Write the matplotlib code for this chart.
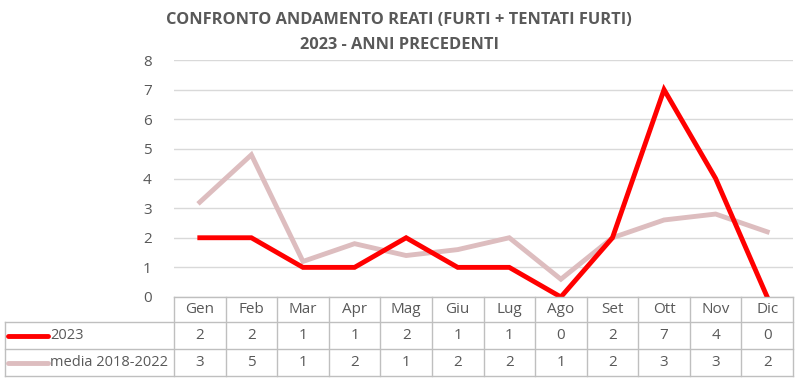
import numpy as np
import matplotlib.pyplot as plt
from matplotlib.transforms import blended_transform_factory

# dati
mesi = ['Gen', 'Feb', 'Mar', 'Apr', 'Mag', 'Giu', 'Lug', 'Ago', 'Set', 'Ott', 'Nov', 'Dic']
reati_2023 = [2, 2, 1, 1, 2, 1, 1, 0, 2, 7, 4, 0]
media_18_22 = [3.2, 4.8, 1.2, 1.8, 1.4, 1.6, 2.0, 0.6, 2.0, 2.6, 2.8, 2.2]
serie_nomi = ['2023', 'media 2018-2022']
y_ticks = [0, 1, 2, 3, 4, 5, 6, 7, 8]

rosso = '#FF0000'
rosa = '#DDBDBF'
grigio = '#595959'
bordo = '#BFBFBF'
plt.rcParams['font.family'] = ['Open Sans', 'DejaVu Sans']

W, H = 800, 383
fig = plt.figure(figsize=(8, 3.83), dpi=100)
x0, x1 = 174, 793
ytop, ybot = 60, 297
ax = fig.add_axes([x0 / W, 1 - ybot / H, (x1 - x0) / W, (ybot - ytop) / H])

x = np.arange(len(mesi))
ax.plot(x, media_18_22, color=rosa, lw=3.5, solid_joinstyle='miter', zorder=3)
ax.plot(x, reati_2023, color=rosso, lw=3.5, solid_joinstyle='miter', zorder=4)

ax.set_xlim(-0.5, len(mesi) - 0.5)
ax.set_ylim(0, 8)
ax.set_yticks(y_ticks)
ax.set_xticks([])
ax.tick_params(axis='y', length=0, pad=16, labelsize=11, labelcolor=grigio)
ax.grid(axis='y', color='#D9D9D9', lw=1)
for s in ax.spines.values():
    s.set_visible(False)
ax.set_axisbelow(True)

# titolo
fig.text(399 / W, 1 - 20 / H, 'CONFRONTO ANDAMENTO REATI (FURTI + TENTATI FURTI)',
         ha='center', va='center', fontsize=11.8, fontweight='bold', color=grigio)
fig.text(399 / W, 1 - 45 / H, '2023 - ANNI PRECEDENTI',
         ha='center', va='center', fontsize=11.8, fontweight='bold', color=grigio)

# tabella dati
tr = blended_transform_factory(ax.transData, fig.transFigure)
fy = lambda p: 1 - p / H
fx = lambda p: p / W
righe = [297, 322, 349, 376]
left = 5

# linee orizzontali
fig.add_artist(plt.Line2D([fx(x0), fx(x1)], [fy(righe[0])] * 2, color=bordo, lw=1))
for r in righe[1:]:
    fig.add_artist(plt.Line2D([fx(left), fx(x1)], [fy(r)] * 2, color=bordo, lw=1))
# linee verticali
for i in range(len(mesi) + 1):
    xi = i - 0.5
    fig.add_artist(plt.Line2D([xi, xi], [fy(righe[0]), fy(righe[-1])], color=bordo, lw=1,
                              transform=tr))
fig.add_artist(plt.Line2D([fx(left)] * 2, [fy(righe[1]), fy(righe[-1])], color=bordo, lw=1))

for i, m in enumerate(mesi):
    fig.text(i, fy((righe[0] + righe[1]) / 2), m, transform=tr, ha='center', va='center',
             fontsize=11, color=grigio)
    fig.text(i, fy((righe[1] + righe[2]) / 2), str(reati_2023[i]), transform=tr,
             ha='center', va='center', fontsize=11, color=grigio)
    fig.text(i, fy((righe[2] + righe[3]) / 2), str(int(round(media_18_22[i]))), transform=tr,
             ha='center', va='center', fontsize=11, color=grigio)

for k, (nome, col) in enumerate(zip(serie_nomi, [rosso, rosa])):
    yc = fy((righe[k + 1] + righe[k + 2]) / 2)
    fig.add_artist(plt.Line2D([fx(8), fx(48)], [yc, yc], color=col, lw=3.5,
                              solid_capstyle='round'))
    fig.text(fx(50), yc, nome, ha='left', va='center', fontsize=10.5, color=grigio)

fig.savefig('out.png', dpi=100, facecolor='white')
